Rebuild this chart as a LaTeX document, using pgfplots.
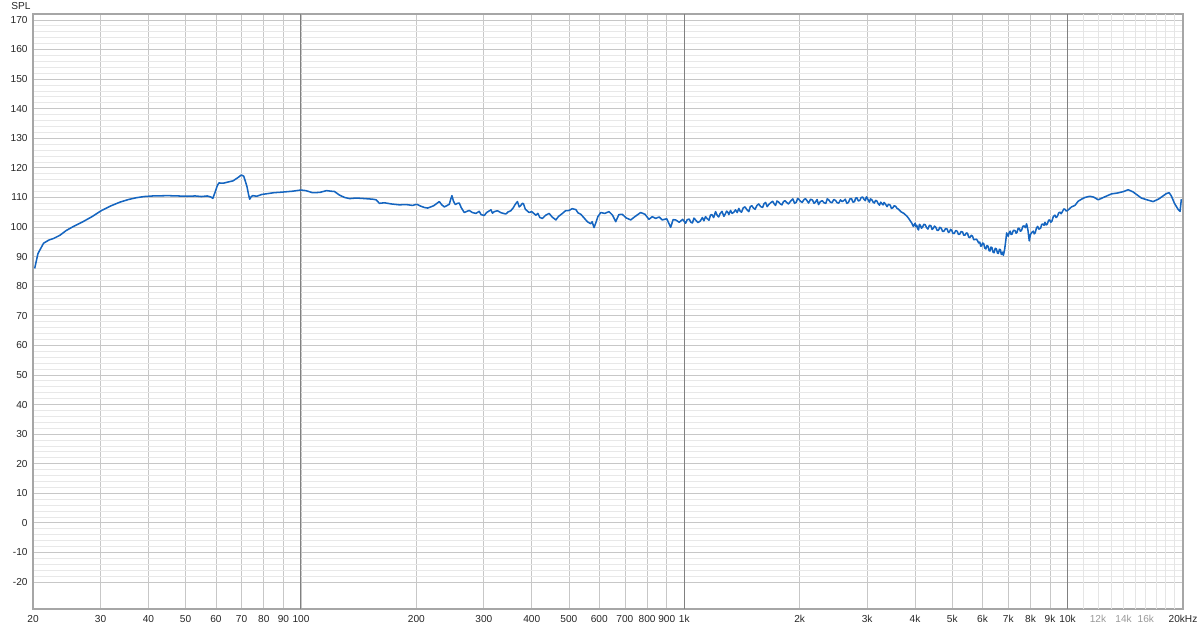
\documentclass[border=0pt]{standalone}
\usepackage{pgfplots}
\pgfplotsset{compat=1.18}
\usepackage{fontspec}
\setmainfont{Liberation Sans}
\definecolor{curve}{RGB}{21,101,192}
\begin{document}
\begin{tikzpicture}
\begin{axis}[
  name=ax,
  scale only axis, width=862.5pt, height=446.25pt,
  xmode=log, xmin=20, xmax=20000, ymin=-29.1, ymax=172,
  xtick={20,30,40,50,60,70,80,90,100,200,300,400,500,600,700,800,900,1000,2000,3000,4000,5000,6000,7000,8000,9000,10000,20000},
  xticklabels={20,30,40,50,60,70,80,90,100,200,300,400,500,600,700,800,900,1k,2k,3k,4k,5k,6k,7k,8k,9k,10k,20kHz},
  extra x ticks={11000,12000,13000,14000,15000,16000,17000,18000,19000},
  extra x tick labels={,12k,,14k,,16k,,,},
  extra x tick style={grid=major, major grid style={color=black!10, line width=0.6pt}, xticklabel style={text=black!40}},
  ytick={-20,-10,0,10,20,30,40,50,60,70,80,90,100,110,120,130,140,150,160,170},
  minor y tick num=4,
  xminorticks=false,
  xmajorgrids, ymajorgrids, yminorgrids,
  major grid style={color=black!22, line width=0.6pt},
  minor grid style={color=black!9, line width=0.6pt},
  major tick length=0pt, minor tick length=0pt,
  axis line style={draw=black!35, line width=1.3pt},
  tick label style={font=\fontsize{7.6}{9}\selectfont, text=black!85},
  /pgf/number format/assume math mode=true,
  xticklabel style={yshift=-1pt},
  yticklabel style={xshift=-0.5pt},
  clip=true,
]
\draw[black!50, line width=0.7pt] (axis cs:100,-29.1) -- (axis cs:100,172);
\draw[black!50, line width=0.7pt] (axis cs:1000,-29.1) -- (axis cs:1000,172);
\draw[black!50, line width=0.7pt] (axis cs:10000,-29.1) -- (axis cs:10000,172);
\addplot[curve, line width=1.15pt, line join=round, no marks] table {
x y
20.2 86.0
20.6 91.0
21.3 94.5
22.0 95.6
22.6 96.1
23.5 97.2
24.4 98.8
25.5 100.2
27.0 101.8
28.5 103.5
30.2 105.6
32 107.2
33.7 108.4
35.5 109.3
37.2 109.9
39 110.3
41.1 110.5
45 110.6
50.5 110.4
53 110.5
55 110.3
57.0 110.5
58.3 110.1
58.9 109.7
59.8 112.0
60.5 114.0
61.1 114.9
62.7 114.8
64.5 115.2
66.5 115.6
68.5 116.7
69.9 117.6
70.9 117.2
71.6 115.5
72.3 113.7
73.0 111.0
73.5 109.4
74.2 110.3
74.9 110.6
76.7 110.4
79 111.0
81.0 111.2
85 111.6
89.4 111.8
95 112.1
99.9 112.5
103 112.3
107.2 111.6
112 111.7
116.6 112.3
120 112.1
122.3 112.0
126 110.8
129.9 110.0
134 109.6
139.3 109.8
147 109.6
153.9 109.4
157.1 109.2
160.2 108.0
165.1 108.2
172 107.8
180.6 107.5
188 107.6
195.6 107.3
200.4 107.7
205.8 107.0
210 106.6
214.1 106.4
222 107.2
229.6 108.6
233 107.5
236.6 106.8
240 107.2
243.8 107.7
246 109.5
247.7 110.6
250 108.7
252.7 107.6
256 108.0
258.8 108.1
262 106.5
266.7 104.9
270 105.2
274.8 105.6
280 104.9
286.1 104.6
291.8 105.3
295 104.2
300.8 103.9
305 104.9
313.1 105.8
316 104.7
319.3 105.2
325.6 105.5
333 104.8
342.4 104.4
347 105.1
352.8 105.5
358 106.5
362 107.6
367.1 108.6
371 106.8
374.7 107.3
378 108.0
380.6 107.9
385 106.0
393.8 104.9
400 105.2
410.0 104.0
415 104.6
420 103.2
426.6 102.9
435 104.0
444.1 104.6
452 103.4
462.3 102.4
470 103.6
480.9 104.6
490 105.5
500.6 105.6
510 106.2
521.2 105.9
528 104.8
537.1 104.3
545 103.4
558.6 101.8
570 101.1
575 101.8
581.5 99.8
588 101.5
595 103.5
605.4 104.9
620 104.6
636.3 105.2
650 104.0
662.4 101.8
675 104.2
689.1 104.3
705 103.1
724.7 102.4
745 103.6
769.5 104.9
790 104.3
808.7 102.6
825 103.5
842.0 102.9
860 103.4
876.0 102.4
900 102.8
921.3 99.9
935 102.5
949.4 102.4
970 101.6
990 102.6
1007.8 101.3
1018 102.5
1030 102.7
1040 101.6
1050 101.4
1060 103.0
1070 102.4
1085 101.5
1100 102.0
1115 103.2
1125 102.1
1136 103.5
1148 102.8
1160 102.3
1170 104.0
1180 104.2
1193 103.2
1206.6 105.2
1218 104.0
1229 103.4
1240 104.5
1254 105.3
1268.3 103.6
1279 104.4
1290 105.4
1300 104.9
1307 104.2
1320 105.6
1332.9 104.6
1346 105.0
1360 105.8
1374 104.9
1387.6 106.3
1398 105.4
1410 105.0
1425 106.5
1440 106.8
1456 105.9
1473.3 105.2
1487 106.9
1500 107.2
1515 106.4
1530 106.0
1547 107.3
1564.2 107.8
1582 106.9
1600 106.6
1615 107.9
1630 108.3
1645 106.9
1661 107.6
1680 108.2
1700 108.7
1715 107.9
1730 107.3
1745 108.8
1760 108.5
1780 107.8
1798 107.5
1815 108.6
1830 108.9
1850 108.3
1870 107.8
1895 108.8
1920 109.5
1940 108.0
1960 108.4
1975 109.6
1988 109.4
2010 108.7
2030 108.3
2050 109.2
2070 109.6
2090 108.9
2110 108.1
2135 109.4
2160 109.1
2180 108.0
2198 108.4
2220 109.3
2240 107.6
2265 108.6
2290 108.9
2315 108.2
2340 108.0
2360 109.5
2380 109.2
2405 108.4
2428 108.2
2455 109.3
2480 109.0
2505 108.2
2530 108.1
2555 109.2
2578 108.6
2605 108.9
2630 109.4
2655 108.0
2680 108.3
2705 109.5
2730 109.6
2755 108.4
2780 108.6
2800 109.8
2820 109.9
2845 108.8
2870 109.0
2895 110.0
2920 110.1
2945 109.3
2966 108.9
2985 110.2
3000 109.8
3020 109.1
3040 108.4
3060 109.5
3085 109.2
3110 108.4
3130 108.1
3155 109.0
3180 108.8
3205 107.9
3230 107.4
3255 108.4
3276 107.9
3300 107.5
3320 108.3
3350 107.7
3380 106.9
3410 107.7
3445 107.4
3470 106.3
3500 106.5
3530 107.2
3560 107.0
3590 106.3
3622 106.0
3680 105.1
3740 104.6
3806 103.7
3850 102.9
3890 102.0
3923 101.3
3960 100.2
4000 101.3
4020 100.1
4040 100.6
4060 99.5
4083 99.0
4105 100.9
4130 100.6
4155 99.6
4180 99.9
4215 100.9
4250 100.8
4285 99.8
4320 99.3
4360 100.6
4400 100.4
4430 99.2
4460 99.5
4495 100.3
4530 99.9
4565 98.9
4603 98.9
4640 99.9
4680 99.6
4720 98.5
4760 98.6
4805 99.5
4850 99.3
4885 98.2
4920 98.4
4950 99.2
4985 98.9
5020 97.9
5060 97.8
5105 98.8
5150 98.6
5190 97.5
5230 97.6
5275 98.5
5320 98.3
5360 97.2
5402 97.3
5440 98.0
5480 97.9
5520 96.6
5560 96.4
5605 97.2
5650 96.9
5690 95.7
5736 95.8
5780 95.9
5820 95.4
5860 94.6
5900 94.9
5935 93.5
5968 93.7
6000 94.6
6040 94.4
6080 92.9
6120 92.6
6160 93.7
6200 93.5
6240 92.0
6276 91.9
6310 93.2
6350 93.0
6390 91.5
6430 91.3
6475 92.8
6520 92.6
6560 91.2
6597 91.1
6640 92.5
6680 92.3
6710 90.8
6740 90.8
6770 91.5
6798 90.4
6850 92.4
6900 95.6
6934 98.0
6970 97.2
7000 96.9
7040 98.1
7080 98.6
7120 97.5
7160 97.6
7220 98.9
7292 98.8
7340 97.9
7380 98.2
7430 99.6
7480 99.5
7530 98.6
7580 98.8
7640 100.2
7700 100.4
7760 99.8
7816 101.1
7880 99.0
7943 95.3
8000 97.5
8070 98.2
8136 98.6
8180 97.7
8230 98.0
8290 99.6
8350 100.2
8420 99.3
8500 99.6
8560 100.9
8620 101.0
8680 100.6
8729 101.6
8790 100.7
8850 101.0
8920 102.3
8980 102.4
9040 101.6
9100 102.0
9180 103.6
9266 104.0
9330 103.2
9400 103.6
9480 104.8
9550 105.0
9620 104.5
9700 105.3
9770 106.1
9839 106.0
9920 105.4
10000 105.6
10235 106.8
10450 107.3
10650 108.7
10869 109.4
11100 110.0
11430 110.4
11700 110.1
12013 109.2
12400 110.0
13015 111.2
13500 111.5
14000 112.0
14384 112.6
14800 111.9
15200 110.8
15573 109.8
16100 109.2
16710 108.6
17300 109.5
18094 111.3
18400 111.6
18645 110.5
19000 108.0
19410 106.0
19650 105.3
19800 109.4
};
\end{axis}
\node[anchor=west, font=\fontsize{7.6}{9}\selectfont, text=black!85, inner sep=0pt] at ([xshift=-16.5pt, yshift=6.2pt]ax.north west) {SPL};
\pgfresetboundingbox
\useasboundingbox (-24.75pt,-13.5pt) rectangle (875.25pt,456.75pt);
\end{tikzpicture}
\end{document}
